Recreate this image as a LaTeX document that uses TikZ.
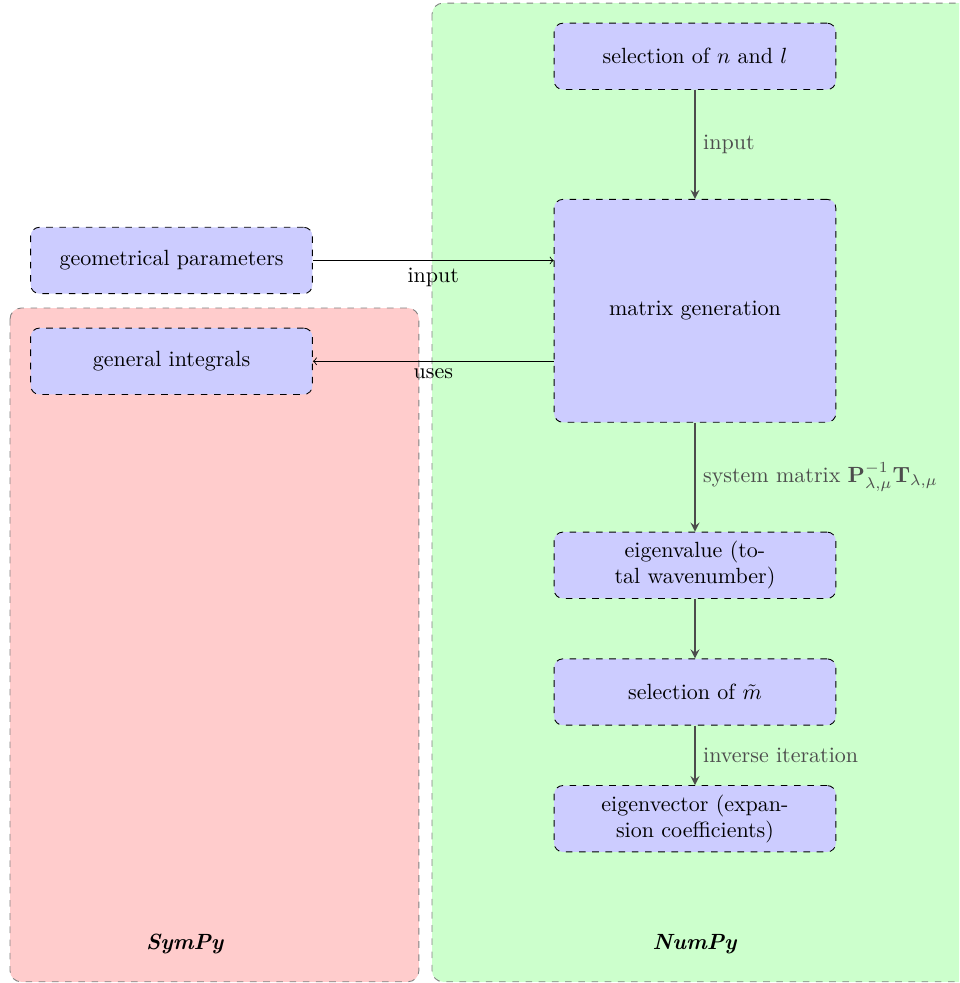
\documentclass[tikz,border=0pt]{standalone}
\usepackage{tikz}
\usetikzlibrary{positioning, arrows}
\begin{document}
\begin{tikzpicture}
\tikzstyle{procblock}=[draw, dashed, rounded corners=4pt, fill=blue!20, minimum width=4.5cm,
minimum height=1.06cm, align=center]
\tikzstyle{region}=[draw=black!50, dashed, rounded corners=5pt]
\tikzstyle{flow}=[-stealth, thick, black!70]
\tikzstyle{flowlabel}=[right, text=black!70]

\clip (0,0) rectangle (15.32,-15.70);

% libraries
\draw[region, fill=green!20] (6.90,-0.05) rectangle (15.9,-15.68);
\draw[region, fill=red!20] (0.16,-4.92) rectangle (6.69,-15.68);
\node (sympy) at (2.955,-15.08) {\textbf{\textit{SymPy}}};
\node (numpy) at (11.10,-15.08) {\textbf{\textit{NumPy}}};

% numpy steps
\node (sel) [procblock] at (11.10,-0.90) {selection of $n$ and $l$};
\node (mat) [procblock, minimum height=3.56cm, below=1.74cm of sel] {matrix generation};
\node (eval) [procblock, below=1.74cm of mat] {eigenvalue (to-\\tal wavenumber)};
\node (msel) [procblock, below=0.95cm of eval] {selection of $\tilde{m}$};
\node (evec) [procblock, below=0.95cm of msel] {eigenvector (expan-\\sion coefficients)};

% outside
\node (geo) [procblock] at (2.74,-4.16) {geometrical parameters};
\node (gen) [procblock] at (2.74,-5.77) {general integrals};

% connections
\draw[flow] (sel) -- node[flowlabel] {input} (mat);
\draw[flow] (mat) -- node[flowlabel] {system matrix $\mathbf{P}_{\lambda,\mu}^{-1}\mathbf{T}_{\lambda,\mu}$} (eval);
\draw[flow] (eval) -- (msel);
\draw[flow] (msel) -- node[flowlabel] {inverse iteration} (evec);
\draw[->] (geo) -- node[below] {input} (geo -| mat.west);
\draw[->] (gen -| mat.west) -- node[below] {uses} (gen);

\end{tikzpicture}
\end{document}
